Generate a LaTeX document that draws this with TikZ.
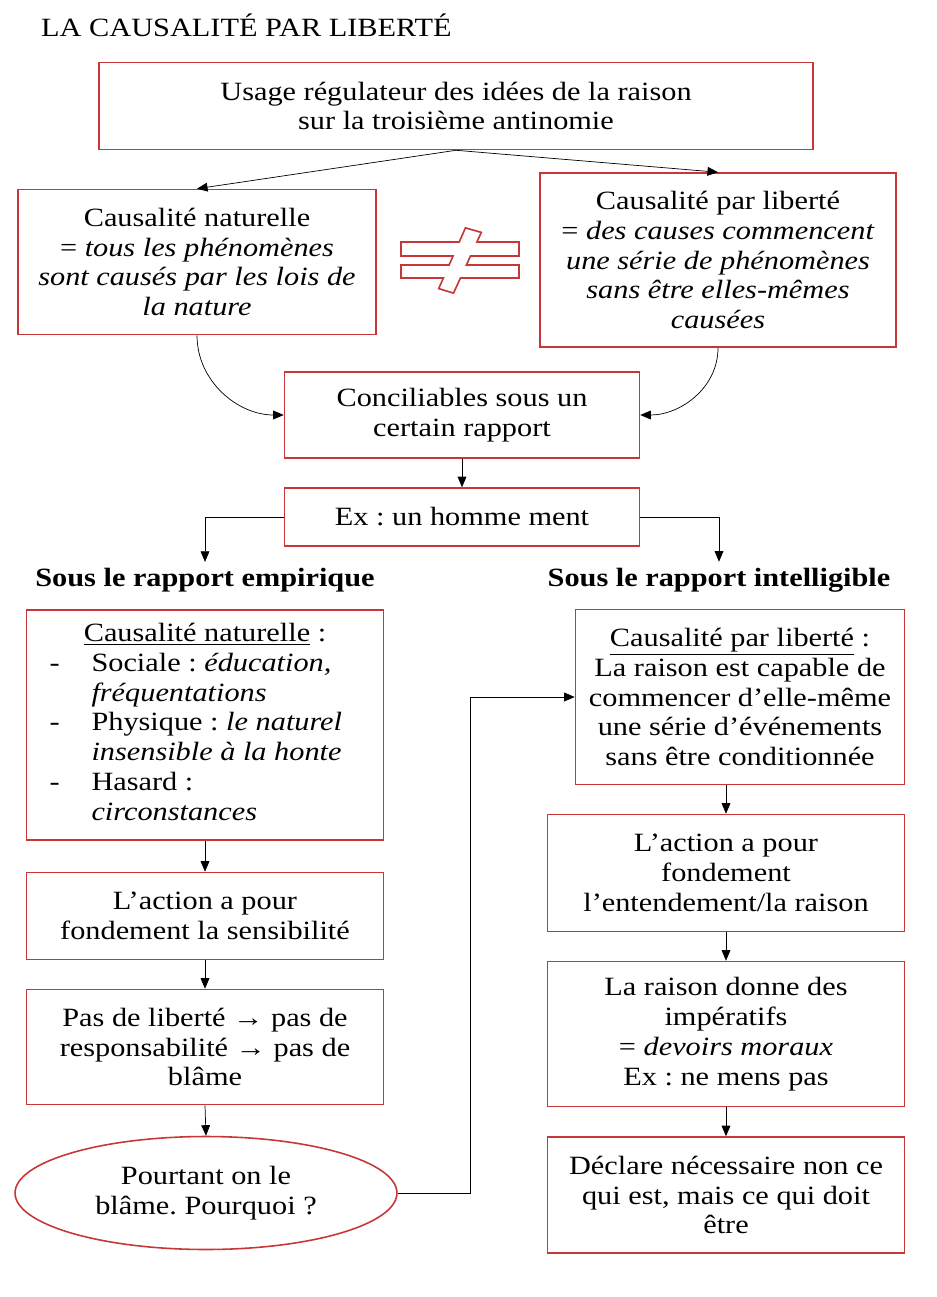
\documentclass[tikz,border=0pt]{standalone}
\usepackage{fontspec}
\setmainfont{Liberation Serif}[FakeStretch=1.15]
\usetikzlibrary{arrows.meta,shapes.geometric}
\definecolor{boxred}{RGB}{200,55,55}
\frenchspacing
\begin{document}
\begin{tikzpicture}[x=0.02cm, y=-0.02cm,
    every node/.style={font=\fontsize{15}{17}\selectfont},
    box/.style={draw=boxred, line width=0.9pt, align=center, inner sep=0pt, minimum width=7.14cm},
    head/.style={font=\fontsize{15}{17}\selectfont\bfseries},
    arr/.style={-{Triangle[length=6pt,width=5pt]}, black, line width=0.4pt}]
        \useasboundingbox (0,0) rectangle (936,1297);
        % Title
        \node[anchor=west] (titre) at (35,25) {LA CAUSALITÉ PAR LIBERTÉ};
        % Antinomy
        \node[box, minimum width=14.28cm, minimum height=1.74cm] (ideas) at (456,106) {Usage régulateur des idées de la raison\\sur la troisième antinomie};
        \node[box, minimum width=7.16cm, minimum height=2.9cm] (natur) at (197,262) {Causalité naturelle\\= \textit{tous les phénomènes}\\\textit{sont causés par les lois de}\\\textit{la nature}};
        \node[box, minimum width=7.12cm, minimum height=3.48cm] (liber) at (718,260) {Causalité par liberté\\= \textit{des causes commencent}\\\textit{une série de phénomènes}\\\textit{sans être elles-mêmes}\\\textit{causées}};
        % Not equal sign
        \draw[boxred, line width=2pt] (402,243) rectangle (518,255) (402,266) rectangle (518,277)
            (466,229) -- (480,233) -- (453,292) -- (440,288) -- cycle;
        \fill[white] (402,243) rectangle (518,255);
        \fill[white] (402,266) rectangle (518,277);
        \fill[white] (466,229) -- (480,233) -- (453,292) -- (440,288) -- cycle;
        % Reconciliation
        \node[box, minimum width=7.1cm, minimum height=1.72cm] (concil) at (462,415) {Conciliables sous un\\certain rapport};
        \node[box, minimum width=7.1cm, minimum height=1.16cm] (exmple) at (462,517) {Ex : un homme ment};
        \node[head] (hdemp) at (205,580) {Sous le rapport empirique};
        \node[head] (hdint) at (719,580) {Sous le rapport intelligible};
        % Empirical side
        \node[box, minimum height=4.6cm] (natlist) at (205,725) {%
            \begin{tabular}{@{}p{0.84cm}@{}p{5.38cm}@{}}
            \multicolumn{2}{c}{\underline{Causalité naturelle} :}\\
            - & Sociale : \textit{éducation,}\\
              & \textit{fréquentations}\\
            - & Physique : \textit{le naturel}\\
              & \textit{insensible à la honte}\\
            - & Hasard :\\
              & \textit{circonstances}
            \end{tabular}};
        \node[box, minimum height=1.74cm] (sensib) at (205,916) {L’action a pour\\fondement la sensibilité};
        \node[box, minimum height=2.3cm] (blame) at (205,1047) {Pas de liberté → pas de\\responsabilité → pas de\\blâme};
        \node[box, ellipse, minimum width=7.64cm, minimum height=2.26cm] (ellip) at (206,1193) {Pourtant on le\\blâme. Pourquoi ?};
        % Intelligible side
        \node[box, minimum width=6.58cm, minimum height=3.5cm] (intel1) at (740,697) {\underline{Causalité par liberté} :\\La raison est capable de\\commencer d’elle-même\\une série d’événements\\sans être conditionnée};
        \node[box, minimum height=2.34cm] (intel2) at (726,873) {L’action a pour\\fondement\\l’entendement/la raison};
        \node[box, minimum height=2.9cm] (intel3) at (726,1034) {La raison donne des\\impératifs\\= \textit{devoirs moraux}\\Ex : ne mens pas};
        \node[box, minimum height=2.32cm] (intel4) at (726,1195) {Déclare nécessaire non ce\\qui est, mais ce qui doit\\être};
        % Arrows
        \draw[arr] (ideas.south) -- (natur.north);
        \draw[arr] (ideas.south) -- (liber.north);
        \draw[arr] (natur.south) to[out=-90, in=180] (concil.west);
        \draw[arr] (liber.south) to[out=-90, in=0] (concil.east);
        \draw[arr] (concil.south) -- (exmple.north);
        \draw[arr] (exmple.west) -| (hdemp.north);
        \draw[arr] (exmple.east) -| (hdint.north);
        \draw[arr] (natlist.south) -- (sensib.north);
        \draw[arr] (sensib.south) -- (blame.north);
        \draw[arr] (blame.south) -- (ellip.north);
        \draw[arr] (ellip.east) -- ++(73,0) |- (intel1.west);
        \draw[arr] (intel2.north |- intel1.south) -- (intel2.north);
        \draw[arr] (intel2.south) -- (intel3.north);
        \draw[arr] (intel3.south) -- (intel4.north);
\end{tikzpicture}
\end{document}
